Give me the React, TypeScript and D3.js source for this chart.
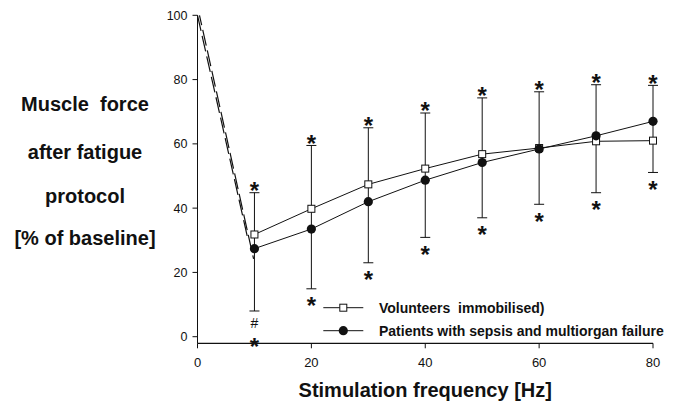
import React from "react";
import * as d3 from "d3";

const freqs = [10, 20, 30, 40, 50, 60, 70, 80];
const volunteers = [31.8, 39.8, 47.4, 52.3, 56.8, 58.7, 60.8, 61.0];
const patients = [27.4, 33.5, 42.0, 48.7, 54.2, 58.4, 62.5, 67.0];
const errUpper = [44.8, 59.5, 65.0, 69.6, 74.3, 76.2, 78.4, 78.2];
const errLower = [8.0, 14.9, 23.0, 30.9, 37.0, 41.2, 44.8, 51.1];
const marksAbove = ["*", "*", "*", "*", "*", "*", "*", "*"];
const marksBelow = [["#", "*"], ["*"], ["*"], ["*"], ["*"], ["*"], ["*"], ["*"]];
const dropVolunteers: [number, number][] = [[0, 100], [8.9, 30.0]];
const dropPatients: [number, number][] = [[0.35, 100], [9.85, 24.2]];
const xTicks = [0, 20, 40, 60, 80];
const yTicks = [0, 20, 40, 60, 80, 100];
const yLabelLines = ["Muscle  force", "after fatigue", "protocol", "[% of baseline]"];
const xTitle = "Stimulation frequency [Hz]";
const legendLabels = ["Volunteers  immobilised)", "Patients with sepsis and multiorgan failure"];

const W = 675;
const H = 406;
const INK = "#111";

export default function App() {
  const x = d3.scaleLinear().domain([0, 80]).range([197.5, 653]);
  const y = d3.scaleLinear().domain([0, 100]).range([336.7, 15.3]);
  const axisY = y(-2.05);
  const line = d3
    .line<[number, number]>()
    .x((d) => x(d[0]))
    .y((d) => y(d[1]));
  const volPts = freqs.map((f, i) => [f, volunteers[i]] as [number, number]);
  const patPts = freqs.map((f, i) => [f, patients[i]] as [number, number]);
  const font = "Arial, 'Liberation Sans', Helvetica, sans-serif";
  const capW = 5;
  const starFs = 24;
  const yLabelBaselines = [111, 159, 203, 245];

  return (
    <svg
      width={W}
      height={H}
      style={{ position: "absolute", left: 0, top: 0, background: "#fff" }}
      fontFamily={font}
    >
      <rect x={0} y={0} width={W} height={H} fill="#fff" />
      {/* axes */}
      <line x1={x(0)} x2={x(0)} y1={y(100)} y2={axisY} stroke={INK} strokeWidth={1} />
      <line x1={x(0)} x2={x(80)} y1={axisY} y2={axisY} stroke={INK} strokeWidth={1.2} />
      {yTicks.map((t) => (
        <g key={"yt" + t}>
          <line x1={x(0) - 5} x2={x(0)} y1={y(t)} y2={y(t)} stroke={INK} />
          <text x={x(0) - 10} y={y(t)} dy="0.35em" textAnchor="end" fontSize={12.5} fill={INK}>
            {t}
          </text>
        </g>
      ))}
      {xTicks.map((t) => (
        <g key={"xt" + t}>
          <line x1={x(t)} x2={x(t)} y1={axisY} y2={axisY + 5} stroke={INK} />
          <text x={x(t)} y={366.5} textAnchor="middle" fontSize={13} fill={INK}>
            {t}
          </text>
        </g>
      ))}
      {/* titles */}
      {yLabelLines.map((s, i) => (
        <text
          key={"yl" + i}
          x={85}
          y={yLabelBaselines[i]}
          textAnchor="middle"
          fontSize={20}
          fontWeight="bold"
          fill={INK}
          style={{ whiteSpace: "pre" }}
        >
          {s}
        </text>
      ))}
      <text x={x(40)} y={397} textAnchor="middle" fontSize={20} fontWeight="bold" fill={INK}>
        {xTitle}
      </text>
      {/* dashed drops */}
      <path d={line(dropVolunteers) || ""} fill="none" stroke={INK} strokeWidth={1.2} strokeDasharray="16,5" />
      <path d={line(dropPatients) || ""} fill="none" stroke={INK} strokeWidth={1.2} strokeDasharray="16,5" strokeDashoffset={6} />
      {/* error bars */}
      {freqs.map((f, i) => (
        <g key={"eb" + f} stroke={INK} strokeWidth={1}>
          <line x1={x(f)} x2={x(f)} y1={y(errUpper[i])} y2={y(errLower[i])} />
          <line x1={x(f) - capW} x2={x(f) + capW} y1={y(errUpper[i])} y2={y(errUpper[i])} />
          <line x1={x(f) - capW} x2={x(f) + capW} y1={y(errLower[i])} y2={y(errLower[i])} />
        </g>
      ))}
      {/* lines */}
      <path d={line(volPts) || ""} fill="none" stroke={INK} strokeWidth={1} />
      <path d={line(patPts) || ""} fill="none" stroke={INK} strokeWidth={1} />
      {volPts.map((p, i) => (
        <rect
          key={"vs" + i}
          x={x(p[0]) - 3.5}
          y={y(p[1]) - 3.5}
          width={7}
          height={7}
          fill="#fff"
          stroke={INK}
          strokeWidth={1}
        />
      ))}
      {patPts.map((p, i) => (
        <circle key={"pc" + i} cx={x(p[0])} cy={y(p[1])} r={4.6} fill={INK} />
      ))}
      {/* significance marks */}
      {freqs.map((f, i) => (
        <text
          key={"ma" + f}
          x={x(f)}
          y={y(errUpper[i]) - 7.5 + 0.575 * starFs}
          textAnchor="middle"
          fontSize={starFs}
          fontWeight="bold"
          fill={INK}
        >
          {marksAbove[i]}
        </text>
      ))}
      {freqs.map((f, i) =>
        marksBelow[i].map((m, j) => {
          const isHash = m === "#";
          const centerOff = marksBelow[i].length > 1 ? (j === 0 ? 12.3 : 30.7) : 11.5;
          const cy = y(errLower[i]) + centerOff;
          return (
            <text
              key={"mb" + f + "_" + j}
              x={x(f)}
              y={isHash ? cy + 0.36 * 14 : cy + 0.575 * starFs}
              textAnchor="middle"
              fontSize={isHash ? 14 : starFs}
              fontWeight={isHash ? "normal" : "bold"}
              fill={INK}
            >
              {m}
            </text>
          );
        })
      )}
      {/* legend */}
      {legendLabels.map((lab, i) => {
        const ly = 307.7 + i * 23;
        const cx = 343.3;
        return (
          <g key={"lg" + i}>
            <line x1={323.3} x2={363.3} y1={ly} y2={ly} stroke={INK} strokeWidth={1} />
            {i === 0 ? (
              <rect x={cx - 3.5} y={ly - 3.5} width={7} height={7} fill="#fff" stroke={INK} />
            ) : (
              <circle cx={cx} cy={ly} r={4.6} fill={INK} />
            )}
            <text
              x={379}
              y={ly + 4.8}
              fontSize={14}
              fontWeight="bold"
              fill={INK}
              style={{ whiteSpace: "pre" }}
            >
              {lab}
            </text>
          </g>
        );
      })}
    </svg>
  );
}
